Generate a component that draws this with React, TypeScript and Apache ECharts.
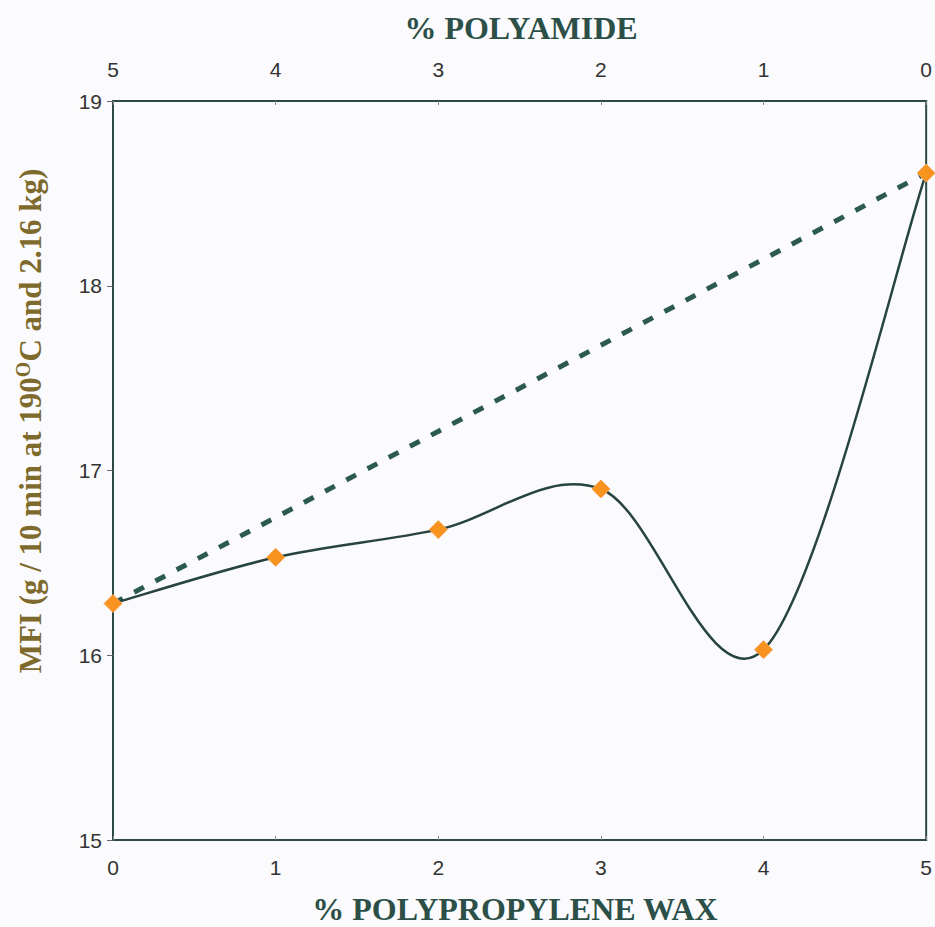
import React, { useEffect, useRef } from "react";
import * as echarts from "echarts";

const waxPercent = [0, 1, 2, 3, 4, 5];
const mfiValues = [16.28, 16.53, 16.68, 16.9, 16.03, 18.61];
const additiveLineX = [0, 5];
const additiveLineY = [16.28, 18.61];
const yTicks = [15, 16, 17, 18, 19];

const AXIS_COLOR = "#2c4a44";
const SERIF = "'Liberation Serif', 'Times New Roman', serif";

export default function App() {
  const ref = useRef<HTMLDivElement>(null);
  useEffect(() => {
    if (!ref.current) return;
    const chart = echarts.init(ref.current, undefined, { renderer: "svg" });
    const tickFont = { fontFamily: "'Liberation Sans Narrow', 'Liberation Sans', Arial", fontSize: 21, color: "#333" };
    const pts = waxPercent.map((x, i) => [x, mfiValues[i]]);
    chart.setOption({
      animation: false,
      backgroundColor: "#fbfbfd",
      grid: {
        left: 113,
        top: 101,
        right: 2,
        bottom: 87,
        show: true,
        borderColor: AXIS_COLOR,
        borderWidth: 2,
        backgroundColor: "transparent",
      },
      xAxis: [
        {
          type: "value",
          min: 0,
          max: 5,
          interval: 1,
          position: "bottom",
          axisLine: { show: true, lineStyle: { color: AXIS_COLOR, width: 2 } },
          axisTick: { show: true, inside: true, length: 4, lineStyle: { color: "#888" } },
          axisLabel: { ...tickFont, margin: 17 },
          splitLine: { show: false },
        },
        {
          type: "value",
          min: 0,
          max: 5,
          interval: 1,
          inverse: true,
          position: "top",
          axisLine: { show: true, lineStyle: { color: AXIS_COLOR, width: 2 } },
          axisTick: { show: true, inside: true, length: 4, lineStyle: { color: "#888" } },
          axisLabel: { ...tickFont, margin: 21 },
          splitLine: { show: false },
        },
      ],
      yAxis: {
        type: "value",
        min: yTicks[0],
        max: yTicks[yTicks.length - 1],
        interval: 1,
        axisLine: { show: true, lineStyle: { color: AXIS_COLOR, width: 2 } },
        axisTick: { show: true, length: 6, lineStyle: { color: "#666" } },
        axisLabel: { ...tickFont, margin: 11 },
        splitLine: { show: false },
      },
      graphic: [
        {
          type: "text",
          x: 521,
          y: 28,
          style: {
            text: "% POLYAMIDE",
            font: `bold 32px ${SERIF}`,
            fill: "#2c4f48",
            align: "center",
            verticalAlign: "middle",
          },
        },
        {
          type: "text",
          x: 515,
          y: 909,
          style: {
            text: "% POLYPROPYLENE WAX",
            font: `bold 32px ${SERIF}`,
            fill: "#2c4f48",
            align: "center",
            verticalAlign: "middle",
          },
        },
        {
          type: "text",
          x: 30,
          y: 421,
          rotation: Math.PI / 2,
          style: {
            text: "MFI (g / 10 min at 190{sup|O}C and 2.16 kg)",
            font: `bold 31px ${SERIF}`,
            fill: "#7d6a2c",
            align: "center",
            verticalAlign: "middle",
            rich: {
              sup: {
                font: `bold 20px ${SERIF}`,
                fill: "#7d6a2c",
                verticalAlign: "bottom",
                padding: [0, 0, 14, 0],
              },
            },
          },
        },
      ],
      series: [
        {
          type: "line",
          xAxisIndex: 0,
          data: additiveLineX.map((x, i) => [x, additiveLineY[i]]),
          showSymbol: false,
          symbol: "none",
          lineStyle: { color: "#2d5a50", width: 5, type: [11, 13] },
          z: 2,
        },
        {
          type: "custom",
          xAxisIndex: 0,
          data: pts,
          encode: { x: 0, y: 1 },
          z: 3,
          renderItem: (params: any, api: any) => {
            const i = params.dataIndex;
            if (i >= pts.length - 1) return { type: "group", children: [] };
            const c = pts.map((p) => api.coord(p));
            const p0 = c[Math.max(i - 1, 0)];
            const p1 = c[i];
            const p2 = c[i + 1];
            const p3 = c[Math.min(i + 2, c.length - 1)];
            return {
              type: "bezierCurve",
              shape: {
                x1: p1[0],
                y1: p1[1],
                cpx1: p1[0] + (p2[0] - p0[0]) / 6,
                cpy1: p1[1] + (p2[1] - p0[1]) / 6,
                cpx2: p2[0] - (p3[0] - p1[0]) / 6,
                cpy2: p2[1] - (p3[1] - p1[1]) / 6,
                x2: p2[0],
                y2: p2[1],
              },
              style: { stroke: "#27443f", lineWidth: 2.5, fill: "none" },
            };
          },
        },
        {
          type: "scatter",
          xAxisIndex: 0,
          data: pts,
          symbol: "diamond",
          symbolSize: 18,
          clip: false,
          itemStyle: { color: "#f7931e", borderColor: "#f9a24e", borderWidth: 1, opacity: 1 },
          z: 4,
        },
      ],
    });
    return () => chart.dispose();
  }, []);
  return <div ref={ref} style={{ width: 935, height: 927, position: "absolute", left: 0, top: 0 }} />;
}
